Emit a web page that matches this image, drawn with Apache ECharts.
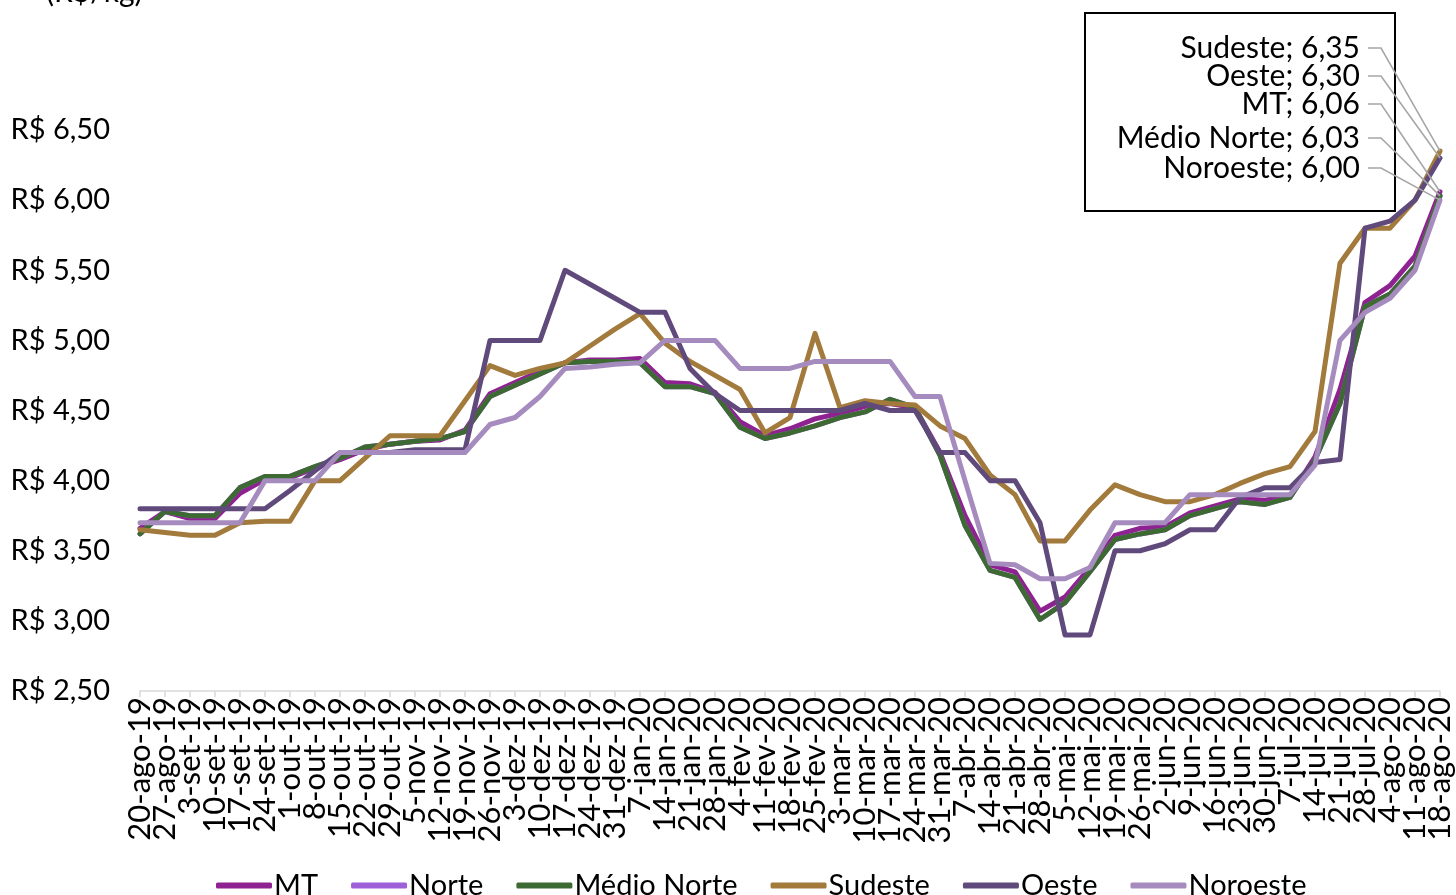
<!DOCTYPE html>
<html>
<head>
<meta charset="utf-8">
<script src="https://cdn.jsdelivr.net/npm/echarts@6/dist/echarts.min.js"></script>
<style>
html,body{margin:0;padding:0;background:#fff;}
#c{width:1456px;height:895px;}
</style>
</head>
<body>
<div id="c"></div>
<script>
var categories = ['20-ago-19','27-ago-19','3-set-19','10-set-19','17-set-19','24-set-19','1-out-19','8-out-19','15-out-19','22-out-19','29-out-19','5-nov-19','12-nov-19','19-nov-19','26-nov-19','3-dez-19','10-dez-19','17-dez-19','24-dez-19','31-dez-19','7-jan-20','14-jan-20','21-jan-20','28-jan-20','4-fev-20','11-fev-20','18-fev-20','25-fev-20','3-mar-20','10-mar-20','17-mar-20','24-mar-20','31-mar-20','7-abr-20','14-abr-20','21-abr-20','28-abr-20','5-mai-20','12-mai-20','19-mai-20','26-mai-20','2-jun-20','9-jun-20','16-jun-20','23-jun-20','30-jun-20','7-jul-20','14-jul-20','21-jul-20','28-jul-20','4-ago-20','11-ago-20','18-ago-20'];

var mt = [3.66,3.78,3.73,3.73,3.91,4.01,4.02,4.09,4.15,4.22,4.26,4.28,4.29,4.36,4.62,4.70,4.78,4.84,4.86,4.86,4.87,4.70,4.69,4.63,4.42,4.32,4.37,4.44,4.48,4.53,4.55,4.52,4.20,3.75,3.40,3.35,3.07,3.17,3.38,3.61,3.66,3.67,3.77,3.82,3.87,3.86,3.89,4.17,4.65,5.27,5.39,5.60,6.06];
var norte = [3.62,3.78,3.75,3.75,3.95,4.03,4.03,4.10,4.16,4.24,4.26,4.28,4.30,4.35,4.60,4.68,4.76,4.84,4.85,4.85,4.84,4.67,4.67,4.62,4.38,4.30,4.34,4.39,4.45,4.49,4.58,4.52,4.18,3.68,3.36,3.31,3.01,3.13,3.35,3.58,3.62,3.65,3.75,3.80,3.85,3.83,3.88,4.15,4.55,5.24,5.33,5.53,6.03];
var medioNorte = [3.62,3.78,3.75,3.75,3.95,4.03,4.03,4.10,4.16,4.24,4.26,4.28,4.30,4.35,4.60,4.68,4.76,4.84,4.85,4.85,4.84,4.67,4.67,4.62,4.38,4.30,4.34,4.39,4.45,4.49,4.58,4.52,4.18,3.68,3.36,3.31,3.01,3.13,3.35,3.58,3.62,3.65,3.75,3.80,3.85,3.83,3.88,4.15,4.55,5.24,5.33,5.53,6.03];
var sudeste = [3.65,3.63,3.61,3.61,3.70,3.71,3.71,4.00,4.00,4.16,4.32,4.32,4.32,4.57,4.82,4.75,4.80,4.84,4.96,5.08,5.19,4.98,4.85,4.75,4.65,4.34,4.45,5.05,4.52,4.57,4.55,4.54,4.39,4.30,4.04,3.90,3.57,3.57,3.79,3.97,3.90,3.85,3.85,3.90,3.98,4.05,4.10,4.35,5.55,5.80,5.80,6.00,6.35];
var oeste = [3.80,3.80,3.80,3.80,3.80,3.80,3.93,4.07,4.20,4.20,4.20,4.22,4.22,4.22,5.00,5.00,5.00,5.50,5.40,5.30,5.20,5.20,4.80,4.62,4.50,4.50,4.50,4.50,4.50,4.55,4.50,4.50,4.20,4.20,4.00,4.00,3.70,2.90,2.90,3.50,3.50,3.55,3.65,3.65,3.88,3.95,3.95,4.13,4.15,5.80,5.85,6.00,6.30];
var noroeste = [3.70,3.70,3.70,3.70,3.70,4.00,4.00,4.00,4.20,4.20,4.20,4.20,4.20,4.20,4.40,4.45,4.60,4.80,4.81,4.83,4.84,5.00,5.00,5.00,4.80,4.80,4.80,4.85,4.85,4.85,4.85,4.60,4.60,4.00,3.41,3.40,3.30,3.30,3.38,3.70,3.70,3.70,3.90,3.90,3.90,3.90,3.90,4.11,5.00,5.20,5.30,5.50,6.00];

var seriesNames = ['MT','Norte','Médio Norte','Sudeste','Oeste','Noroeste'];
var seriesData = [mt, norte, medioNorte, sudeste, oeste, noroeste];
var colors = ['#8E2290','#9D60D8','#3D6A32','#A27A3C','#604A7C','#A68BBE'];
var yTicks = {min: 2.5, max: 6.5, interval: 0.5};
var calloutOrder = ['Sudeste','Oeste','MT','Médio Norte','Noroeste'];

var FONT = 'Lato';
var chart = echarts.init(document.getElementById('c'), null, {renderer: 'canvas'});

var series = seriesNames.map(function (n, i) {
  return {
    name: n, type: 'line', data: seriesData[i], symbol: 'none',
    lineStyle: {width: 5, color: colors[i], join: 'round', cap: 'round'},
    itemStyle: {color: colors[i]},
    animation: false
  };
});

var option = {
  animation: false,
  grid: {left: 140, right: 16, top: 130, bottom: 204, containLabel: false},
  legend: {
    data: seriesNames, left: 211, top: 866,
    icon: 'roundRect', itemWidth: 56, itemHeight: 6, itemGap: 33,
    textStyle: {fontFamily: FONT, fontSize: 29, color: '#000', padding: [0,0,0,-3]}
  },
  xAxis: {
    type: 'category', data: categories, boundaryGap: false,
    axisLine: {lineStyle: {color: '#D9D9D9', width: 1.5}},
    axisTick: {show: true, length: 6, lineStyle: {color: '#D9D9D9', width: 1.5}, interval: 0},
    axisLabel: {interval: 0, rotate: 90, margin: 6, fontFamily: FONT, fontSize: 31, color: '#000'},
    splitLine: {show: false}
  },
  yAxis: {
    type: 'value', min: yTicks.min, max: yTicks.max, interval: yTicks.interval,
    axisLine: {show: false}, axisTick: {show: false}, splitLine: {show: false},
    axisLabel: {
      margin: 30, fontFamily: FONT, fontSize: 29, color: '#000',
      formatter: function (v) { return 'R$ ' + v.toFixed(2).replace('.', ','); }
    }
  },
  series: series
};
chart.setOption(option);

// callout box with leader lines
var labelYs = [48, 76, 104, 138, 168];
var graphics = [
  {type: 'text', left: 46, top: -23, style: {text: '(R$/kg)', fontFamily: FONT, fontSize: 30, fill: '#000'}},
  {type: 'rect', shape: {x: 1085, y: 13, width: 310, height: 198}, style: {fill: '#fff', stroke: '#000', lineWidth: 2}, z: 10}
];
calloutOrder.forEach(function (name, k) {
  var si = seriesNames.indexOf(name);
  var last = seriesData[si].length - 1;
  var val = seriesData[si][last];
  var p = chart.convertToPixel({seriesIndex: si}, [last, val]);
  var ty = labelYs[k];
  graphics.push({
    type: 'text', z: 11,
    style: {x: 1360, y: ty, text: name + '; ' + val.toFixed(2).replace('.', ','), align: 'right', verticalAlign: 'middle', fontFamily: FONT, fontSize: 30, fill: '#000'}
  });
  graphics.push({
    type: 'polyline', z: 12,
    shape: {points: [[1368, ty], [1381, ty], [p[0], p[1]]]},
    style: {stroke: '#A6A6A6', lineWidth: 1.6, fill: null}
  });
});
chart.setOption({graphic: graphics});
</script>
</body>
</html>
